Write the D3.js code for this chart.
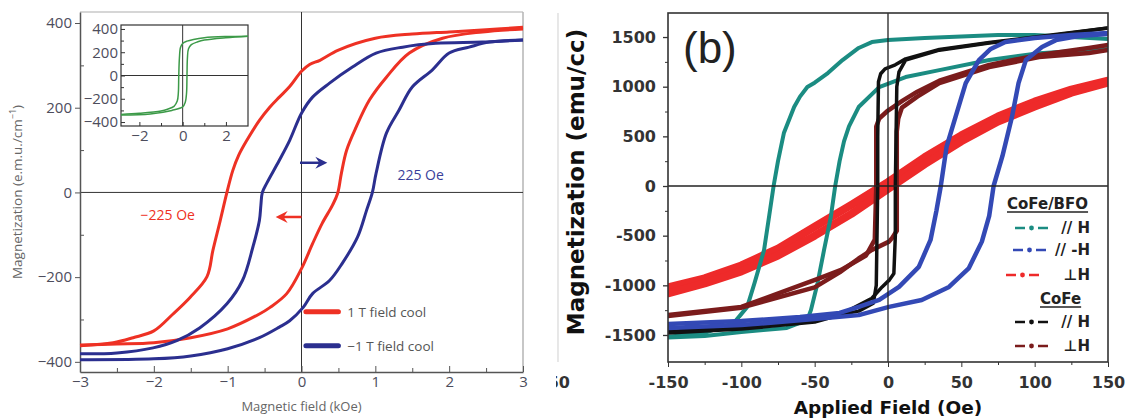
<!DOCTYPE html>
<html>
<head>
<meta charset="utf-8">
<script src="https://cdn.jsdelivr.net/npm/d3@7"></script>
<style>
body { margin: 0; background: #fff; }
svg { display: block; }
</style>
</head>
<body>
<svg id="chart"></svg>
<script>
// ---------- panel (a): field in kOe, magnetization in e.m.u./cm3 ----------
const redDown = [[3,390],[2.5,384],[2,379],[1.5,374],[1,364],[0.5,336],[0.25,312],[0.11,302],[0,286],[-0.16,250],[-0.3,225],[-0.43,201],[-0.57,170],[-0.74,123],[-0.85,88],[-0.93,52],[-1.01,0],[-1.1,-66],[-1.2,-137],[-1.28,-199],[-1.51,-248],[-1.74,-287],[-2.0,-327],[-2.28,-343],[-2.55,-355],[-3,-362]];
const redUp = [[-3,-360],[-2.5,-358],[-2,-355],[-1.5,-343],[-1,-322],[-0.57,-287],[-0.43,-272],[-0.2,-239],[0,-180],[0.15,-121],[0.28,-73],[0.42,-30],[0.49,-2],[0.54,45],[0.61,99],[0.74,154],[0.92,218],[1.15,272],[1.46,329],[1.91,364],[2.45,379],[3,386]];
const blueDown = [[3,360],[2.45,355],[1.82,352],[1.37,343],[1.01,329],[0.69,296],[0.38,258],[0.15,225],[0,187],[-0.16,123],[-0.3,76],[-0.47,22],[-0.53,0],[-0.55,-30],[-0.57,-66],[-0.66,-130],[-0.8,-208],[-1.01,-263],[-1.38,-320],[-1.69,-350],[-2.01,-367],[-2.5,-379],[-3,-381]];
const blueUp = [[-3,-395],[-2,-393],[-1.5,-386],[-1,-369],[-0.57,-343],[-0.3,-318],[-0.16,-303],[0.02,-272],[0.15,-239],[0.38,-208],[0.55,-168],[0.76,-105],[0.88,-43],[0.96,0],[1.01,45],[1.15,140],[1.32,194],[1.5,249],[1.77,289],[2.0,329],[2.27,343],[2.54,355],[3,360]];
// inset loop
const greenDown = [[3.02,338],[2,335],[1,325],[0.5,310],[0.2,295],[0,275],[-0.1,240],[-0.15,150],[-0.18,0],[-0.2,-150],[-0.25,-220],[-0.4,-265],[-0.7,-290],[-1,-305],[-2,-325],[-2.85,-335]];
const greenUp = [[-2.85,-340],[-1.5,-330],[-0.5,-300],[0,-270],[0.12,-230],[0.18,-150],[0.2,0],[0.22,150],[0.27,230],[0.4,265],[0.7,290],[1,305],[2,325],[3.02,338]];

const aXTicks = [-3,-2,-1,0,1,2,3];
const aXMinor = [-2.5,-1.5,-0.5,0.5,1.5,2.5];
const aYTicks = [-400,-200,0,200,400];
const aYMinor = [-300,-100,100,300];
const insetXTicks = [-2,0,2];
const insetXMinor = [-1,1];
const insetYTicks = [-400,-200,0,200,400];
const insetYMinor = [-300,-100,100,300];

// ---------- panel (b): field in Oe, magnetization in emu/cc ----------
const tealDown = [[150,1480],[125,1500],[100,1520],[75,1520],[50,1505],[25,1490],[0,1470],[-11,1449],[-20,1390],[-31,1268],[-41,1137],[-50,1040],[-55,996],[-60,900],[-64,795],[-71,533],[-75,250],[-78,0],[-81,-300],[-84.5,-644],[-91,-976],[-96,-1217],[-105,-1378],[-125,-1479],[-150,-1519]];
const tealUp = [[-150,-1525],[-125,-1510],[-100,-1470],[-85,-1450],[-69,-1429],[-55,-1348],[-52.5,-1247],[-48,-976],[-43.6,-644],[-39,-312],[-36,0],[-33,250],[-30,450],[-26.6,600],[-20,795],[-6,996],[12,1097],[35,1167],[69,1268],[103,1338],[150,1380]];
const blueBDown = [[150,1540],[125,1520],[100,1490],[80,1450],[70,1380],[62,1268],[53,1036],[46,694],[40,400],[36,0],[33,-250],[29,-543],[21,-815],[7.5,-1016],[-6,-1147],[-20,-1217],[-33,-1278],[-60,-1320],[-100,-1360],[-150,-1390]];
const blueBUp = [[-150,-1430],[-100,-1400],[-50,-1340],[-20,-1300],[0.7,-1217],[23,-1147],[41.6,-1016],[55,-830],[64,-560],[69,-300],[72,0],[78,300],[84.5,694],[89,1036],[94,1268],[105,1400],[114.5,1469],[130,1510],[150,1530]];
const redBDown = [[150,1060],[125,970],[100,850],[75,700],[50,510],[25,290],[0,40],[-25,-190],[-50,-410],[-75,-630],[-100,-800],[-125,-930],[-150,-1020]];
const redBUp = [[-150,-1080],[-125,-980],[-100,-860],[-75,-700],[-50,-500],[-25,-280],[0,-30],[25,220],[50,450],[75,650],[100,800],[125,940],[150,1040]];
const blackDown = [[150,1590],[103,1505],[69,1445],[35,1375],[12,1280],[5,1220],[-2,1180],[-5,1130],[-6.5,1050],[-7,500],[-7,0],[-7.5,-500],[-8,-1000],[-10,-1180],[-20,-1260],[-33,-1295],[-50,-1340],[-100,-1420],[-150,-1465]];
const blackUp = [[-150,-1480],[-100,-1440],[-50,-1370],[-33,-1300],[-11,-1130],[-4,-1016],[1,-945],[4,-880],[5,-500],[5,0],[5.5,500],[6,1000],[7.5,1150],[12,1268],[35,1368],[69,1439],[103,1499],[150,1590]];
const brownDown = [[150,1420],[137,1390],[103,1320],[69,1220],[35,1060],[20,950],[10,860],[0,760],[-6,680],[-8,600],[-8,0],[-9,-540],[-15,-700],[-32,-845],[-47,-930],[-100,-1217],[-150,-1300]];
const brownUp = [[-150,-1310],[-100,-1225],[-50,-1020],[-33,-870],[-20,-730],[-11,-644],[0.7,-560],[3,-520],[6,-450],[6,0],[6,550],[7,680],[9.5,790],[20,900],[35,1036],[69,1197],[103,1298],[137,1340],[150,1370]];

const bXTicks = [-150,-100,-50,0,50,100,150];
const bXMinor = [-125,-75,-25,25,75,125];
const bYTicks = [-1500,-1000,-500,0,500,1000,1500];
const bYMinor = [-1250,-750,-250,250,750,1250];

const bLegend = [
  {label: "// H", color: "#1b8c82", y: 233, x0: 1015},
  {label: "// -H", color: "#3349b5", y: 255, x0: 1013},
  {label: "\u22a5H", color: "#ee2a2a", y: 280, x0: 1006},
  {label: "// H", color: "#111111", y: 327, x0: 1015},
  {label: "\u22a5H", color: "#7b1c1c", y: 351, x0: 1015}
];

const width = 1128, height = 419;
const svg = d3.select("#chart").attr("width", width).attr("height", height);
svg.append("rect").attr("width", width).attr("height", height).attr("fill", "#fff");

function styleAxis(g, color, font, size, weight) {
  g.selectAll("line").attr("stroke", color);
  g.select(".domain").attr("stroke", color);
  g.selectAll("text").attr("fill", color).attr("font-family", font)
    .attr("font-size", size).attr("font-weight", weight);
}
const fmtA = d3.format("d");

// ================= panel (a) =================
const aFont = "'Open Sans', sans-serif";
const aText = "#4d4d5c";
const pa = svg.append("g");
const ax = d3.scaleLinear().domain([-3, 3]).range([80, 523]);
const ay = d3.scaleLinear().domain([-424, 426]).range([372, 12]);

pa.append("line").attr("x1", 80).attr("x2", 523).attr("y1", 12).attr("y2", 12)
  .attr("stroke", "#c8c8c8").attr("stroke-width", 1.5);
pa.append("line").attr("x1", 523).attr("x2", 523).attr("y1", 12).attr("y2", 372)
  .attr("stroke", "#b5b5b5").attr("stroke-width", 1.5);

pa.append("line").attr("x1", ax(-3)).attr("x2", ax(3)).attr("y1", ay(0)).attr("y2", ay(0))
  .attr("stroke", "#333").attr("stroke-width", 1);
pa.append("line").attr("x1", ax(0)).attr("x2", ax(0)).attr("y1", 12).attr("y2", 372)
  .attr("stroke", "#333").attr("stroke-width", 1);

const aYAxis = pa.append("g").attr("transform", "translate(80,0)")
  .call(d3.axisLeft(ay).tickValues(aYTicks).tickSize(5).tickSizeOuter(0).tickPadding(3).tickFormat(fmtA));
styleAxis(aYAxis, "#555", aFont, 15, 400);
aYAxis.selectAll("text").attr("fill", aText);
aYAxis.select(".domain").attr("stroke-width", 1.5);
const aYMin = pa.append("g").attr("transform", "translate(80,0)")
  .call(d3.axisLeft(ay).tickValues(aYMinor).tickSize(-4).tickFormat(""));
aYMin.select(".domain").remove();
aYMin.selectAll("line").attr("stroke", "#555");

const aXAxis = pa.append("g").attr("transform", "translate(0,372)")
  .call(d3.axisBottom(ax).tickValues(aXTicks).tickSize(-6).tickSizeOuter(0).tickPadding(4).tickFormat(fmtA));
styleAxis(aXAxis, "#555", aFont, 15, 400);
aXAxis.selectAll("text").attr("fill", aText).attr("y", 4);
aXAxis.select(".domain").attr("stroke-width", 1.5);
const aXMin = pa.append("g").attr("transform", "translate(0,372)")
  .call(d3.axisBottom(ax).tickValues(aXMinor).tickSize(-4).tickFormat(""));
aXMin.select(".domain").remove();
aXMin.selectAll("line").attr("stroke", "#555");

const lineA = d3.line().x(d => ax(d[0])).y(d => ay(d[1])).curve(d3.curveCatmullRom.alpha(0.5));
const aSeries = [
  {data: redDown, color: "#ee3124"}, {data: redUp, color: "#ee3124"},
  {data: blueDown, color: "#2b2f8f"}, {data: blueUp, color: "#2b2f8f"}
];
pa.selectAll(".curveA").data(aSeries).enter().append("path")
  .attr("class", "curveA")
  .attr("d", d => lineA(d.data))
  .attr("fill", "none")
  .attr("stroke", d => d.color)
  .attr("stroke-width", 3)
  .attr("stroke-linejoin", "round");

// arrows
function arrow(g, xTail, xTip, yv, color) {
  const x1 = ax(xTail), x2 = ax(xTip), y = ay(yv);
  const dir = x2 > x1 ? 1 : -1;
  g.append("line").attr("x1", x1).attr("x2", x2 - dir * 6).attr("y1", y).attr("y2", y)
    .attr("stroke", color).attr("stroke-width", 2.5);
  g.append("path")
    .attr("d", `M${x2},${y} L${x2 - dir * 12},${y - 6} L${x2 - dir * 8},${y} L${x2 - dir * 12},${y + 6} Z`)
    .attr("fill", color);
}
arrow(pa, -0.02, 0.35, 70, "#2b2f8f");
arrow(pa, 0.0, -0.35, -58, "#ee3124");

pa.append("text").attr("x", ax(1.3)).attr("y", ay(30)).text("225 Oe")
  .attr("font-family", aFont).attr("font-size", 14).attr("fill", "#3a3f9a");
pa.append("text").attr("x", ax(-2.18)).attr("y", ay(-65)).text("\u2212225 Oe")
  .attr("font-family", aFont).attr("font-size", 14).attr("fill", "#ee3124");

// legend (a)
const aLegend = [{label: "1 T field cool", color: "#ee3124", v: -282}, {label: "\u22121 T field cool", color: "#2b2f8f", v: -362}];
aLegend.forEach(l => {
  pa.append("line").attr("x1", ax(0.06)).attr("x2", ax(0.5)).attr("y1", ay(l.v)).attr("y2", ay(l.v))
    .attr("stroke", l.color).attr("stroke-width", 5).attr("stroke-linecap", "round");
  pa.append("text").attr("x", ax(0.62)).attr("y", ay(l.v) + 5).text(l.label)
    .attr("font-family", aFont).attr("font-size", 13.5).attr("fill", "#555");
});

// axis titles (a)
pa.append("text").attr("x", ax(0)).attr("y", 411).attr("text-anchor", "middle")
  .attr("font-family", aFont).attr("font-size", 13).attr("fill", "#666")
  .text("Magnetic field (kOe)");
const aYT = pa.append("text").attr("transform", "translate(22,192) rotate(-90)")
  .attr("text-anchor", "middle").attr("font-family", aFont).attr("font-size", 13.5).attr("fill", "#666");
aYT.append("tspan").text("Magnetization (e.m.u./cm");
aYT.append("tspan").attr("baseline-shift", "super").attr("font-size", 9).text("\u22121");
aYT.append("tspan").text(")");

// inset
const ix = d3.scaleLinear().domain([-2.85, 3.02]).range([121, 248]);
const iy = d3.scaleLinear().domain([-434, 434]).range([126, 25]);
pa.append("rect").attr("x", 121).attr("y", 25).attr("width", 127).attr("height", 101)
  .attr("fill", "#fff").attr("stroke", "#333").attr("stroke-width", 1.2);
pa.append("line").attr("x1", 121).attr("x2", 248).attr("y1", iy(0)).attr("y2", iy(0)).attr("stroke", "#333");
pa.append("line").attr("x1", ix(0)).attr("x2", ix(0)).attr("y1", 25).attr("y2", 126).attr("stroke", "#333");
const iYAxis = pa.append("g").attr("transform", "translate(121,0)")
  .call(d3.axisLeft(iy).tickValues(insetYTicks).tickSize(-4).tickSizeOuter(0).tickPadding(3).tickFormat(fmtA));
iYAxis.select(".domain").remove();
styleAxis(iYAxis, "#333", aFont, 15, 400);
iYAxis.selectAll("text").attr("fill", aText).attr("x", -3);
const iYMin = pa.append("g").attr("transform", "translate(121,0)")
  .call(d3.axisLeft(iy).tickValues(insetYMinor).tickSize(-3).tickFormat(""));
iYMin.select(".domain").remove();
iYMin.selectAll("line").attr("stroke", "#333");
const iXAxis = pa.append("g").attr("transform", "translate(0,126)")
  .call(d3.axisBottom(ix).tickValues(insetXTicks).tickSize(-4).tickSizeOuter(0).tickPadding(4).tickFormat(fmtA));
iXAxis.select(".domain").remove();
styleAxis(iXAxis, "#333", aFont, 15, 400);
iXAxis.selectAll("text").attr("fill", aText).attr("y", 4);
const iXMin = pa.append("g").attr("transform", "translate(0,126)")
  .call(d3.axisBottom(ix).tickValues(insetXMinor).tickSize(-3).tickFormat(""));
iXMin.select(".domain").remove();
iXMin.selectAll("line").attr("stroke", "#333");

const lineI = d3.line().x(d => ix(d[0])).y(d => iy(d[1])).curve(d3.curveCatmullRom.alpha(0.5));
pa.selectAll(".curveI").data([greenDown, greenUp]).enter().append("path")
  .attr("class", "curveI")
  .attr("d", d => lineI(d))
  .attr("fill", "none").attr("stroke", "#3c9a48").attr("stroke-width", 1.5);

// ================= panel (b) =================
const bFont = "'DejaVu Sans', sans-serif";
const pb = svg.append("g");
const bx = d3.scaleLinear().domain([-150, 150]).range([668, 1108]);
const by = d3.scaleLinear().domain([-1772, 1742]).range([362, 13]);

// separator between panels and clipped tick label of a neighbour
pb.append("line").attr("x1", 558).attr("x2", 558).attr("y1", 13).attr("y2", 362)
  .attr("stroke", "#d8d8d8").attr("stroke-width", 1.2);
svg.append("clipPath").attr("id", "fragClip").append("rect")
  .attr("x", 556).attr("y", 360).attr("width", 30).attr("height", 40);
pb.append("text").attr("clip-path", "url(#fragClip)")
  .attr("x", 570).attr("y", 388).attr("text-anchor", "end")
  .attr("font-family", bFont).attr("font-weight", 700).attr("font-size", 16).attr("fill", "#333")
  .text("50");

svg.append("clipPath").attr("id", "bClip").append("rect")
  .attr("x", 668).attr("y", 13).attr("width", 440).attr("height", 349);

const lineB = d3.line().x(d => bx(d[0])).y(d => by(d[1]));
const bSeries = [
  {data: redBDown, color: "#ee2a2a", w: 8},
  {data: redBUp, color: "#ee2a2a", w: 8},
  {data: tealDown, color: "#1b8c82", w: 4},
  {data: tealUp, color: "#1b8c82", w: 4},
  {data: brownDown, color: "#7b1c1c", w: 4.5},
  {data: brownUp, color: "#7b1c1c", w: 4.5},
  {data: blackDown, color: "#111111", w: 3.5},
  {data: blackUp, color: "#111111", w: 3.5},
  {data: blueBDown, color: "#3349b5", w: 4.5},
  {data: blueBUp, color: "#3349b5", w: 4.5}
];
pb.append("g").attr("clip-path", "url(#bClip)")
  .selectAll("path").data(bSeries).enter().append("path")
  .attr("d", d => lineB(d.data))
  .attr("fill", "none")
  .attr("stroke", d => d.color)
  .attr("stroke-width", d => d.w)
  .attr("stroke-linejoin", "round")
  .attr("stroke-linecap", "round");

pb.append("line").attr("x1", 668).attr("x2", 1108).attr("y1", by(0)).attr("y2", by(0))
  .attr("stroke", "#222").attr("stroke-width", 1.3);
pb.append("line").attr("x1", bx(0)).attr("x2", bx(0)).attr("y1", 13).attr("y2", 362)
  .attr("stroke", "#222").attr("stroke-width", 1.3);
pb.append("rect").attr("x", 668).attr("y", 13).attr("width", 440).attr("height", 349)
  .attr("fill", "none").attr("stroke", "#333").attr("stroke-width", 1.6);

const bYAxis = pb.append("g").attr("transform", "translate(668,0)")
  .call(d3.axisLeft(by).tickValues(bYTicks).tickSize(5).tickSizeOuter(0).tickPadding(7).tickFormat(d => String(d)));
bYAxis.select(".domain").remove();
styleAxis(bYAxis, "#333", bFont, 16, 700);
const bYMin = pb.append("g").attr("transform", "translate(668,0)")
  .call(d3.axisLeft(by).tickValues(bYMinor).tickSize(3).tickFormat(""));
bYMin.select(".domain").remove();
bYMin.selectAll("line").attr("stroke", "#333");
bYAxis.selectAll("line").attr("stroke-width", 1.3);

const bXAxis = pb.append("g").attr("transform", "translate(0,362)")
  .call(d3.axisBottom(bx).tickValues(bXTicks).tickSize(5).tickSizeOuter(0).tickPadding(10).tickFormat(d => String(d)));
bXAxis.select(".domain").remove();
styleAxis(bXAxis, "#333", bFont, 16, 700);
const bXMin = pb.append("g").attr("transform", "translate(0,362)")
  .call(d3.axisBottom(bx).tickValues(bXMinor).tickSize(3).tickFormat(""));
bXMin.select(".domain").remove();
bXMin.selectAll("line").attr("stroke", "#333");

pb.append("text").attr("x", 683).attr("y", 63).text("(b)")
  .attr("font-family", "'Liberation Sans', Arial, sans-serif").attr("font-size", 44).attr("fill", "#222");

pb.append("text").attr("x", bx(0)).attr("y", 414).attr("text-anchor", "middle")
  .attr("font-family", bFont).attr("font-weight", 700).attr("font-size", 18.5).attr("fill", "#111")
  .text("Applied Field (Oe)");
pb.append("text").attr("transform", "translate(584,182) rotate(-90)").attr("text-anchor", "middle")
  .attr("font-family", bFont).attr("font-weight", 700).attr("font-size", 23).attr("fill", "#111")
  .text("Magnetization (emu/cc)");

// legend (b)
const bHeads = [{label: "CoFe/BFO", x: 1007, y: 209}, {label: "CoFe", x: 1040, y: 304}];
bHeads.forEach(h => {
  const t = pb.append("text").attr("x", h.x).attr("y", h.y).text(h.label)
    .attr("font-family", bFont).attr("font-weight", 700).attr("font-size", 15).attr("fill", "#222");
  const w = t.node().getComputedTextLength();
  pb.append("line").attr("x1", h.x).attr("x2", h.x + w).attr("y1", h.y + 3).attr("y2", h.y + 3)
    .attr("stroke", "#222").attr("stroke-width", 1.6);
});
bLegend.forEach(l => {
  const yc = l.y - 5;
  pb.append("line").attr("x1", l.x0).attr("x2", l.x0 + 10).attr("y1", yc).attr("y2", yc)
    .attr("stroke", l.color).attr("stroke-width", 2.5);
  pb.append("circle").attr("cx", l.x0 + 16.5).attr("cy", yc).attr("r", 2.4).attr("fill", l.color);
  pb.append("line").attr("x1", l.x0 + 23).attr("x2", l.x0 + 33).attr("y1", yc).attr("y2", yc)
    .attr("stroke", l.color).attr("stroke-width", 2.5);
  pb.append("text").attr("x", 1090).attr("y", l.y).attr("text-anchor", "end").text(l.label)
    .attr("font-family", bFont).attr("font-weight", 700).attr("font-size", 15).attr("fill", "#222");
});
</script>
</body>
</html>
